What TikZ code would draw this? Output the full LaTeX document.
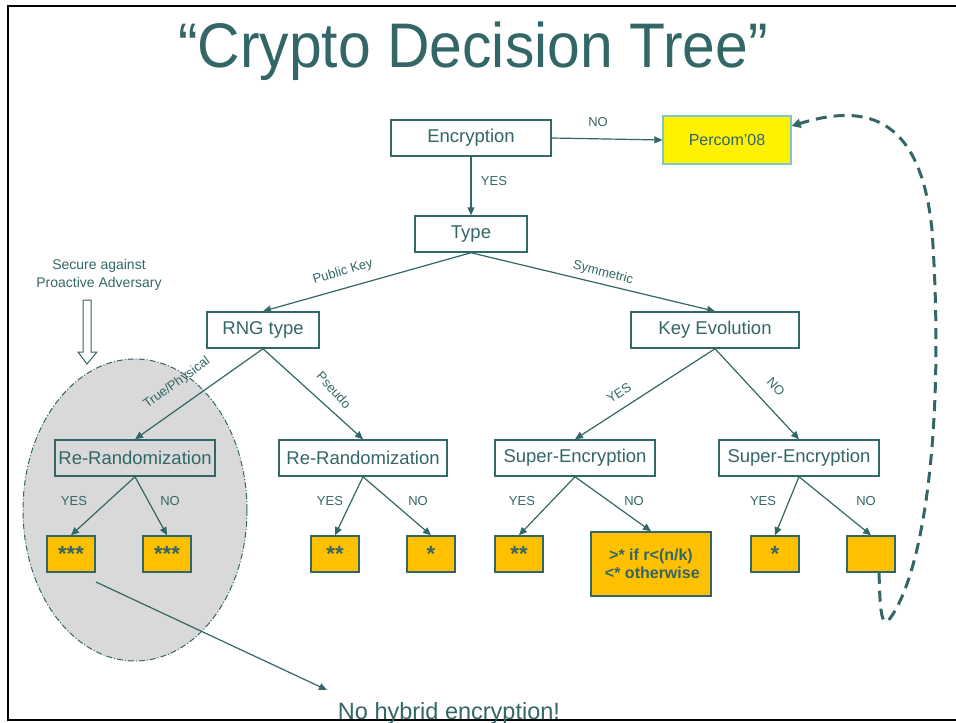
\documentclass[tikz,border=0pt]{standalone}
\usepackage{fontspec}
\setmainfont{Liberation Sans}
\usetikzlibrary{arrows.meta,shapes.geometric}
\definecolor{teal1}{HTML}{336666}
\definecolor{leafor}{HTML}{FFC000}
\definecolor{ellgray}{HTML}{D9D9D9}
\definecolor{percomb}{HTML}{7FC3CC}
\begin{document}
\begin{tikzpicture}[x=1pt,y=-1pt,
  box/.style={draw=teal1, line width=1.5pt, text=teal1, minimum height=36pt, inner sep=0pt, font=\fontsize{18.5}{21}\selectfont},
  leaf/.style={draw=teal1, fill=leafor, line width=1.5pt, text=teal1, minimum width=48pt, minimum height=36pt, inner sep=0pt, font=\bfseries\fontsize{22}{24}\selectfont},
  lbl/.style={text=teal1, font=\fontsize{13}{15}\selectfont, inner sep=0pt},
  edge/.style={draw=teal1, line width=1.2pt, -{Triangle[length=8pt,width=7pt]}},
]
\useasboundingbox (0,0) rectangle (956,723);
% frame
\draw[black, line width=2pt] (956,6) -- (8,6) -- (8,720) -- (956,720);

% title
\node[text=teal1, font=\fontsize{63}{66}\selectfont, inner sep=0pt, anchor=base] (title) at (473,67) {\scalebox{0.934}[1]{“Crypto Decision Tree”}};

% ellipse
\node[ellipse, fill=ellgray, draw=teal1, line width=1pt, dash pattern=on 6pt off 2pt on 1pt off 2pt,
      minimum width=224pt, minimum height=302pt, inner sep=0pt] (ell) at (135,510) {};

% main nodes
\node[box, minimum width=160pt] (enc) at (471,138) {Encryption};
\node[draw=percomb, fill=yellow, line width=1.2pt, text=teal1, minimum width=128pt, minimum height=48pt, inner sep=0pt,
      font=\fontsize{16}{19}\selectfont] (percom) at (727,140) {Percom’08};
\node[box, minimum width=112pt] (type) at (471,234) {Type};
\node[box, minimum width=112pt] (rng) at (263,330) {RNG type};
\node[box, minimum width=168pt] (kev) at (715,330) {Key Evolution};
\node[box, minimum width=160pt] (rr1) at (135,458) {Re-Randomization};
\node[box, minimum width=168pt] (rr2) at (363,458) {Re-Randomization};
\node[box, minimum width=160pt] (se1) at (575,458) {Super-Encryption};
\node[box, minimum width=160pt] (se2) at (799,458) {Super-Encryption};

% leaves
\node[leaf] (l1) at (71,554) {***};
\node[leaf] (l2) at (167,554) {***};
\node[leaf] (l3) at (335,554) {**};
\node[leaf] (l4) at (431,554) {*};
\node[leaf] (l5) at (519,554) {**};
\node[leaf, minimum width=120pt, minimum height=64pt, align=center, font=\bfseries\fontsize{16}{18}\selectfont] (l6) at (651,564) {>* if r<(n/k)\\ \,<* otherwise};
\node[leaf] (l7) at (775,554) {*};
\node[leaf] (l8) at (871,554) {};

% edges
\draw[edge] (enc.east) -- (percom.west);
\draw[edge] (enc.south) -- (type.north);
\draw[edge] (type.south) -- (rng.north);
\draw[edge] (type.south) -- (kev.north);
\draw[edge] (rng.south) -- (rr1.north);
\draw[edge] (rng.south) -- (rr2.north);
\draw[edge] (kev.south) -- (se1.north);
\draw[edge] (kev.south) -- (se2.north);
\draw[edge] (rr1.south) -- (l1.north);
\draw[edge] (rr1.south) -- (l2.north);
\draw[edge] (rr2.south) -- (l3.north);
\draw[edge] (rr2.south) -- (l4.north);
\draw[edge] (se1.south) -- (l5.north);
\draw[edge] (se1.south) -- (l6.north);
\draw[edge] (se2.south) -- (l7.north);
\draw[edge] (se2.south) -- (l8.north);

% labels
\node[lbl] (lno) at (598,122) {NO};
\node[lbl] (lyes) at (494,181) {YES};
\node[lbl, rotate=16] (lpk) at (343,272) {Public Key};
\node[lbl, rotate=-14] (lsym) at (603,273) {Symmetric};
\node[lbl, rotate=36] (ltp) at (177,383) {True/Physical};
\node[lbl, rotate=-48] (lps) at (334,390) {Pseudo};
\node[lbl, rotate=34] (lky) at (619,393) {YES};
\node[lbl, rotate=-48] (lkn) at (776,387) {NO};
\node[lbl] (y1) at (74,501) {YES};
\node[lbl] (n1) at (170,501) {NO};
\node[lbl] (y2) at (330,501) {YES};
\node[lbl] (n2) at (418,501) {NO};
\node[lbl] (y3) at (522,501) {YES};
\node[lbl] (n3) at (634,501) {NO};
\node[lbl] (y4) at (763,501) {YES};
\node[lbl] (n4) at (866,501) {NO};

% secure against
\node[text=teal1, font=\fontsize{14}{18}\selectfont, align=center, inner sep=0pt] (sec) at (99,275) {Secure against\\Proactive Adversary};
\draw[teal1, line width=1pt, fill=white] (83,300) -- (91,300) -- (91,352) -- (97,352) -- (87,364) -- (78,352) -- (83,352) -- cycle;

% no hybrid
\node[text=teal1, font=\fontsize{23.5}{26}\selectfont, inner sep=0pt, anchor=base] (nohyb) at (449,719) {No hybrid encryption!};
\coordinate (nhs) at (96,582);
\coordinate (nhe) at (327,690);
\draw[edge] (nhs) -- (nhe);

% dashed loop
\coordinate (ds) at ([xshift=8pt]l8.south);
\coordinate (dcurl) at (888,621);
\coordinate (de) at ([yshift=14pt]percom.east);
\draw[teal1, line width=3pt, dash pattern=on 11pt off 7pt, -{Triangle[length=9pt,width=9pt]}]
  (ds) .. controls (880,600) and (880,626) .. (dcurl)
  .. controls (925,575) and (945,420) .. (932,230)
  .. controls (920,110) and (860,105) .. (de);
\end{tikzpicture}
\end{document}
